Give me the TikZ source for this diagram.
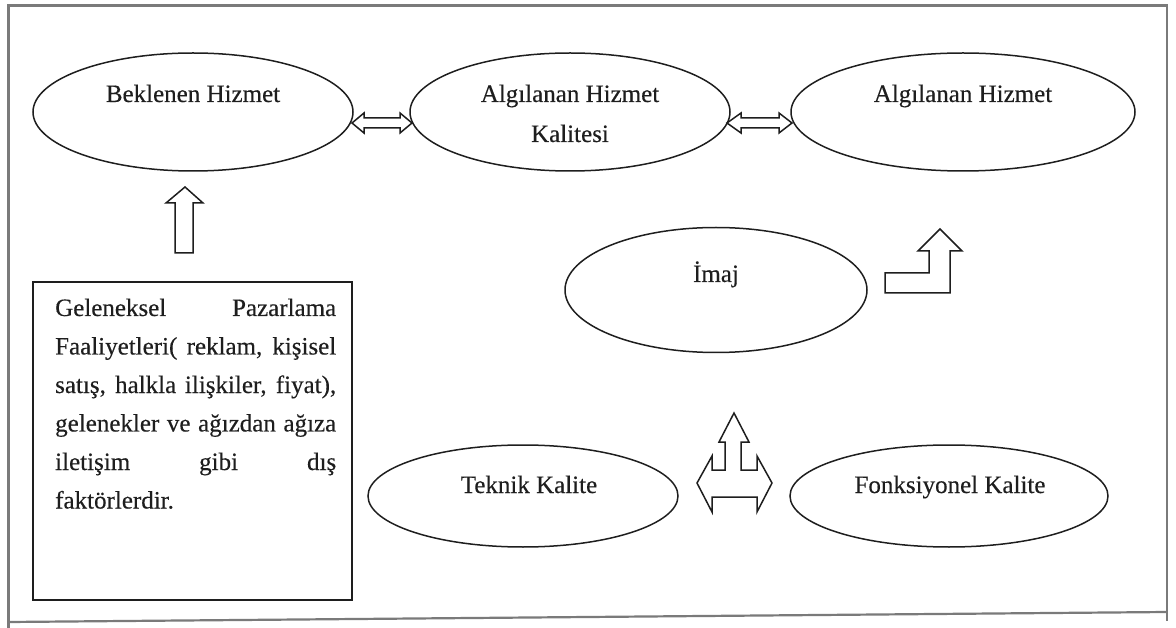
\documentclass[tikz,border=0pt]{standalone}
\usepackage{fontspec}
\setmainfont{Liberation Serif}[FakeBold=0.35]
\usetikzlibrary{shapes.geometric}
\definecolor{ink}{HTML}{1E1E1E}
\definecolor{framegray}{HTML}{7A7A7A}
\tikzset{
  oval/.style={ellipse, draw=ink, line width=1.5pt, inner sep=0pt},
  lbl/.style={inner sep=0pt, anchor=base, text=ink,
    font=\fontsize{25}{38.5}\selectfont},
  blockarrow/.style={draw=ink, line width=1.5pt, line join=miter, fill=white},
  framerule/.style={draw=framegray, line width=2.2pt},
  textbox/.style={draw=ink, line width=1.6pt, inner sep=0pt}
}
\begin{document}
\begin{tikzpicture}[x=1pt, y=-1pt]
\useasboundingbox (0,0) rectangle (1176,628);

% outer frame
\draw[framerule] (8.5,628) -- (8.5,5.5) -- (1167,5.5) -- (1167,621);
\draw[framerule] (8.5,622) -- (1167,612);

% top row of ellipses
\node[oval, minimum width=320pt, minimum height=118pt] (bek) at (193,112) {};
\node[oval, minimum width=320pt, minimum height=118pt] (ahk) at (570,112) {};
\node[oval, minimum width=344pt, minimum height=118pt] (ah)  at (963,112) {};
\node[lbl] (bektxt) at (193,102) {Beklenen Hizmet};
\node[lbl] (ahktxta) at (570,102) {Algılanan Hizmet};
\node[lbl] (ahktxtb) at (570,142) {Kalitesi};
\node[lbl] (ahtxt) at (963,102) {Algılanan Hizmet};

% double arrows between the top ellipses
\draw[blockarrow] (352,123) -- (364,113) -- (364,118) -- (400,118) -- (400,113)
  -- (412,123) -- (400,133) -- (400,128) -- (364,128) -- (364,133) -- cycle;
\draw[blockarrow] (727,123) -- (741,113) -- (741,118) -- (779,118) -- (779,113)
  -- (792,123) -- (779,133) -- (779,128) -- (741,128) -- (741,133) -- cycle;

% upward arrow above the text box
\draw[blockarrow] (185,187) -- (203,203) -- (193,203) -- (193,253) -- (175,253)
  -- (175,203) -- (166,203) -- cycle;

% external factors box
\node[textbox, minimum width=319pt, minimum height=318pt] (box) at (192.5,441) {};
\node[lbl, anchor=base west] (l1) at (55,316)
  {\makebox[281pt][s]{Geleneksel Pazarlama}};
\node[lbl, anchor=base west] (l2) at (55,354.5)
  {\makebox[281pt][s]{Faaliyetleri( reklam, kişisel}};
\node[lbl, anchor=base west] (l3) at (55,393)
  {\makebox[281pt][s]{satış, halkla ilişkiler, fiyat),}};
\node[lbl, anchor=base west] (l4) at (55,431.5)
  {\makebox[281pt][s]{gelenekler ve ağızdan ağıza}};
\node[lbl, anchor=base west] (l5) at (55,470)
  {\makebox[281pt][s]{iletişim gibi dış}};
\node[lbl, anchor=base west] (l6) at (55,508.5) {faktörlerdir.};

% image ellipse and bent arrow
\node[oval, minimum width=302pt, minimum height=125pt] (imaj) at (716,290) {};
\node[lbl] (imajtxt) at (716,282) {İmaj};
\draw[blockarrow] (940,229) -- (962,251) -- (950,251) -- (950,293) -- (885,293)
  -- (885,273) -- (929,273) -- (929,251) -- (918,251) -- cycle;

% bottom row
\node[oval, minimum width=310pt, minimum height=102pt] (tek) at (523,496) {};
\node[oval, minimum width=318pt, minimum height=102pt] (fon) at (949,496) {};
\node[lbl] (tektxt) at (529,493) {Teknik Kalite};
\node[lbl] (fontxt) at (950,493) {Fonksiyonel Kalite};

% three-way arrow between the bottom ellipses
\draw[blockarrow] (734,413) -- (749,442) -- (741,442) -- (741,470) -- (757,470)
  -- (757,456) -- (772,483) -- (757,512) -- (757,497) -- (712,497) -- (712,512)
  -- (697,483) -- (712,456) -- (712,470) -- (725,470) -- (725,442) -- (719,442)
  -- cycle;
\end{tikzpicture}
\end{document}
